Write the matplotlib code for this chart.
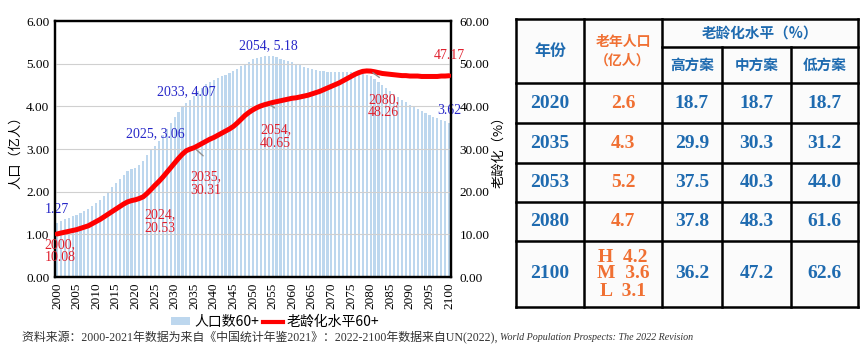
import matplotlib
matplotlib.use('Agg')
import matplotlib.pyplot as plt
from matplotlib.patches import Patch
from matplotlib.lines import Line2D

plt.rcParams['font.family'] = ['Liberation Serif', 'Noto Sans CJK SC', 'DejaVu Sans']
plt.rcParams['axes.unicode_minus'] = False

# 年份 2000-2100
years = list(range(2000, 2101))

# 60岁及以上人口（亿人）
pop60 = [1.27, 1.31, 1.35, 1.38, 1.42, 1.46, 1.50, 1.55, 1.60, 1.66,
         1.73, 1.80, 1.90, 2.00, 2.10, 2.20, 2.30, 2.40, 2.49, 2.53,
         2.56, 2.62, 2.72, 2.85, 2.97, 3.06, 3.19, 3.32, 3.46, 3.60,
         3.74, 3.87, 3.98, 4.07, 4.15, 4.25, 4.35, 4.44, 4.52, 4.58,
         4.62, 4.66, 4.70, 4.73, 4.77, 4.82, 4.88, 4.94, 5.00, 5.05,
         5.10, 5.14, 5.16, 5.17, 5.18, 5.17, 5.15, 5.12, 5.09, 5.06,
         5.03, 5.00, 4.96, 4.93, 4.90, 4.87, 4.85, 4.83, 4.82, 4.81,
         4.81, 4.80, 4.80, 4.80, 4.80, 4.80, 4.79, 4.78, 4.77, 4.74,
         4.70, 4.64, 4.57, 4.50, 4.43, 4.36, 4.29, 4.22, 4.15, 4.09,
         4.03, 3.98, 3.93, 3.88, 3.84, 3.80, 3.76, 3.73, 3.69, 3.65,
         3.62]

# 老龄化水平（%）
aging60 = [10.08, 10.3, 10.5, 10.7, 10.9, 11.1, 11.4, 11.7, 12.0, 12.5,
           13.0, 13.5, 14.1, 14.7, 15.3, 15.9, 16.5, 17.1, 17.6, 17.9,
           18.1, 18.4, 18.8, 19.6, 20.53, 21.5, 22.4, 23.4, 24.5, 25.6,
           26.7, 27.8, 28.8, 29.6, 30.0, 30.31, 30.8, 31.3, 31.8, 32.3,
           32.7, 33.2, 33.7, 34.2, 34.7, 35.3, 36.1, 37.0, 37.9, 38.6,
           39.2, 39.7, 40.1, 40.4, 40.65, 40.9, 41.1, 41.3, 41.5, 41.7,
           41.9, 42.0, 42.2, 42.4, 42.6, 42.9, 43.2, 43.5, 43.9, 44.3,
           44.7, 45.1, 45.5, 46.0, 46.5, 47.0, 47.5, 47.9, 48.2, 48.3,
           48.26, 48.1, 47.9, 47.7, 47.6, 47.5, 47.4, 47.3, 47.2, 47.2,
           47.1, 47.1, 47.1, 47.0, 47.0, 47.0, 47.0, 47.0, 47.1, 47.1,
           47.17]

# 标注点
pop_marks = [2000, 2025, 2033, 2054, 2100]
aging_marks = [2000, 2024, 2035, 2054, 2080, 2100]

# 表格数据
tab_years = ['2020', '2035', '2053', '2080', '2100']
tab_elder = ['2.6', '4.3', '5.2', '4.7', 'H  4.2\nM  3.6\nL  3.1']
tab_high = ['18.7', '29.9', '37.5', '37.8', '36.2']
tab_mid = ['18.7', '30.3', '40.3', '48.3', '47.2']
tab_low = ['18.7', '31.2', '44.0', '61.6', '62.6']

BLUE_BAR = '#bdd7ee'
RED = '#ff0000'
LBL_RED = '#e0202e'
LBL_BLUE = '#2626c8'
T_BLUE = '#1f6bb0'
T_ORANGE = '#f07033'
CJK = ['Noto Sans CJK SC', 'DejaVu Sans']

W, H = 864, 352
fig = plt.figure(figsize=(W / 100, H / 100), dpi=100)
ax = fig.add_axes([55 / W, 1 - 277 / H, (451 - 55) / W, (277 - 21) / H])

ax.bar(years, pop60, width=0.55, color=BLUE_BAR, zorder=2)
ax.set_xlim(1999.5, 2100.5)
ax.set_ylim(0, 6)
ax.set_yticks([0, 1, 2, 3, 4, 5, 6])
ax.set_yticklabels(['%.2f' % v for v in range(7)], fontsize=9.5)
ax.set_xticks(range(2000, 2101, 5))
ax.set_xticklabels([str(y) for y in range(2000, 2101, 5)], rotation=90, fontsize=9.5)
ax.tick_params(length=0, pad=4)
ax.grid(axis='y', color='#d0d0d0', lw=0.8, zorder=3)
ax.set_axisbelow(False)
for s in ax.spines.values():
    s.set_linewidth(1.6)
ax.set_ylabel('人口（亿人）', family=CJK, fontsize=9.5, labelpad=3)

ax2 = ax.twinx()
ax2.plot(years, aging60, color=RED, lw=3.6, zorder=5, solid_capstyle='round')
ax2.set_ylim(0, 60)
ax2.set_yticks(range(0, 61, 10))
ax2.set_yticklabels(['%.2f' % v for v in range(0, 61, 10)], fontsize=9.5)
ax2.tick_params(length=0, pad=6)
for s in ax2.spines.values():
    s.set_linewidth(1.6)
ax2.set_ylabel('老龄化（%）', family=CJK, fontsize=9.5, labelpad=2)

# 人口数标注
pop_offsets = {2000: (0, 13), 2025: (0, 13), 2033: (0, 12), 2054: (0, 10), 2100: (0, 12)}
for y in pop_marks:
    v = pop60[years.index(y)]
    txt = '%.2f' % v if y in (2000, 2100) else '%d, %.2f' % (y, v)
    ax.annotate(txt, (y, v), xytext=pop_offsets[y], textcoords='offset pixels',
                ha='center', va='center', color=LBL_BLUE, fontsize=10, zorder=6)

# 老龄化标注
aging_offsets = {2000: (3, -17), 2024: (9, -32), 2035: (12, -36),
                 2054: (7, -33), 2080: (13, -35), 2100: (0, 20)}
leaders = {2035: (11, -10), 2054: (8, -6), 2080: (11, -8)}
for y in aging_marks:
    v = aging60[years.index(y)]
    txt = '%.2f' % v if y == 2100 else '%d,\n%.2f' % (y, v)
    ax2.annotate(txt, (y, v), xytext=aging_offsets[y], textcoords='offset pixels',
                 ha='center', va='center', color=LBL_RED, fontsize=10,
                 linespacing=1.05, zorder=6)
    if y in leaders:
        ax2.annotate('', (y, v), xytext=leaders[y], textcoords='offset pixels',
                     arrowprops=dict(arrowstyle='-', color='#909090', lw=1.0), zorder=6)

handles = [Patch(facecolor=BLUE_BAR, edgecolor='none'), Line2D([], [], color=RED, lw=3)]
fig.legend(handles, ['人口数60+', '老龄化水平60+'], loc='center',
           bbox_to_anchor=(275 / W, 1 - 322 / H), ncol=2, frameon=False,
           prop={'family': CJK, 'size': 10}, handlelength=1.4, handleheight=0.5,
           handletextpad=0.3, columnspacing=0.3)

# 资料来源
note = fig.text(22 / W, 1 - 338 / H,
                '资料来源：2000-2021年数据为来自《中国统计年鉴2021》：2022-2100年数据来自UN(2022), ',
                fontsize=8.6, color='#333333', va='center',
                family=['Liberation Serif', 'Noto Sans CJK SC'])
ax_n = fig.add_axes([0, 0, 1, 1], facecolor='none')
ax_n.set_axis_off()
ax_n.annotate('World Population Prospects: The 2022 Revision', xy=(1, 0.5), xycoords=note,
              va='center', ha='left', fontsize=7.2, style='italic', color='#333333',
              family='Liberation Serif')

# 表格
tx = fig.add_axes([0, 0, 1, 1], facecolor='none')
tx.set_xlim(0, W)
tx.set_ylim(H, 0)
tx.set_axis_off()
cols = [516, 584, 662, 722, 791, 858]
rows = [19, 83, 123, 163, 202, 241, 307]
lw = 1.8
tx.add_patch(plt.Rectangle((cols[0], rows[0]), cols[-1] - cols[0], rows[-1] - rows[0],
                           facecolor='#fbfbfb', edgecolor='none'))
for r in rows:
    tx.plot([cols[0], cols[-1]], [r, r], color='black', lw=lw, solid_capstyle='projecting')
tx.plot([cols[2], cols[-1]], [47, 47], color='black', lw=lw)
for i, c in enumerate(cols):
    top = rows[0] if i in (0, 1, 2, 5) else 47
    tx.plot([c, c], [top, rows[-1]], color='black', lw=lw, solid_capstyle='projecting')

def cx(i):
    return (cols[i] + cols[i + 1]) / 2

tx.text(cx(0), 51, '年份', color=T_BLUE, fontsize=11.5, fontweight='bold',
        family=CJK, ha='center', va='center')
tx.text(cx(1), 51, '老年人口\n（亿人）', color=T_ORANGE, fontsize=10, fontweight='bold',
        family=CJK, ha='center', va='center', linespacing=1.4)
tx.text((cols[2] + cols[5]) / 2, 33, '老龄化水平（%）', color=T_BLUE, fontsize=10.5,
        fontweight='bold', family=CJK, ha='center', va='center')
for i, name in zip([2, 3, 4], ['高方案', '中方案', '低方案']):
    tx.text(cx(i), 65, name, color=T_BLUE, fontsize=10.5, fontweight='bold',
            family=CJK, ha='center', va='center')

for k in range(len(tab_years)):
    yc = (rows[k + 1] + rows[k + 2]) / 2
    vals = [tab_years[k], tab_elder[k], tab_high[k], tab_mid[k], tab_low[k]]
    for i, v in enumerate(vals):
        color = T_ORANGE if i == 1 else T_BLUE
        tx.text(cx(i), yc, v, color=color, fontsize=14, fontweight='bold',
                family='Liberation Serif', ha='center', va='center',
                linespacing=1.0 if i == 1 else 1.2)

fig.savefig('out.png', dpi=100)
